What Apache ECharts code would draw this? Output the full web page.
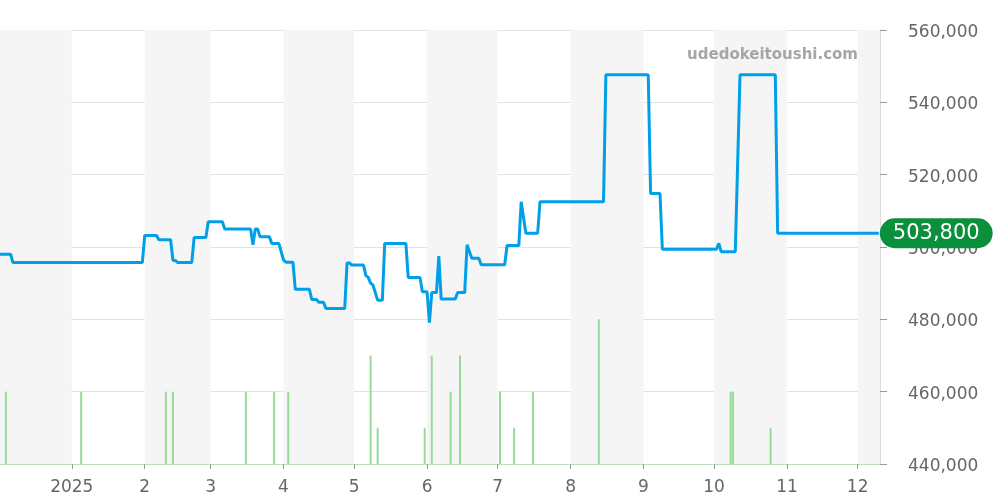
<!DOCTYPE html>
<html>
<head>
<meta charset="utf-8">
<script src="https://cdn.jsdelivr.net/npm/echarts@6/dist/echarts.min.js"></script>
<style>html,body{margin:0;padding:0;background:#fff}#c{width:1000px;height:500px}</style>
</head>
<body>
<div id="c"></div>
<script>
// Price line (date, value)
const priceDates = [
 '2024-12-01','2024-12-06','2024-12-07','2025-01-31','2025-02-01','2025-02-06','2025-02-07','2025-02-12',
 '2025-02-13','2025-02-14','2025-02-15','2025-02-21','2025-02-22','2025-02-27','2025-02-28','2025-03-06',
 '2025-03-07','2025-03-18','2025-03-19','2025-03-20','2025-03-21','2025-03-22','2025-03-26','2025-03-27',
 '2025-03-30','2025-04-01','2025-04-02','2025-04-05','2025-04-06','2025-04-12','2025-04-13','2025-04-15',
 '2025-04-16','2025-04-18','2025-04-19','2025-04-27','2025-04-28','2025-04-29','2025-04-30','2025-05-05',
 '2025-05-06','2025-05-07','2025-05-08','2025-05-09','2025-05-11','2025-05-13','2025-05-14','2025-05-23',
 '2025-05-24','2025-05-29','2025-05-30','2025-06-01','2025-06-02','2025-06-03','2025-06-05','2025-06-06',
 '2025-06-07','2025-06-13','2025-06-14','2025-06-17','2025-06-18','2025-06-20','2025-06-23','2025-06-24',
 '2025-07-04','2025-07-05','2025-07-10','2025-07-11','2025-07-13','2025-07-18','2025-07-19','2025-08-15',
 '2025-08-16','2025-09-03','2025-09-04','2025-09-08','2025-09-09','2025-10-02','2025-10-03','2025-10-04',
 '2025-10-10','2025-10-12','2025-10-27','2025-10-28','2025-12-10'
];
const priceValues = [
 498000,498000,495700,495700,503200,503200,502000,502000,
 496300,496300,495700,495700,502600,502600,507000,507000,
 505000,505000,500600,505000,505000,502800,502800,501000,
 501000,496400,495800,495800,488300,488300,485500,485500,
 484700,484700,483000,483000,495600,495600,495000,495000,
 492100,491600,490000,489500,485300,485300,501000,501000,
 491600,491600,487600,487600,479100,487400,487400,497500,
 485600,485600,487400,487400,500600,496900,496900,495100,
 495100,500400,500400,512500,503800,503800,512500,512500,
 547600,547600,514800,514800,499400,499400,501000,498700,
 498700,547600,547600,503800,503800
];
// Trade count bars
const volumeDates = ['2024-12-04','2025-01-05','2025-02-10','2025-02-13','2025-03-16','2025-03-28','2025-04-03',
 '2025-05-08','2025-05-11','2025-05-31','2025-06-03','2025-06-11','2025-06-15','2025-07-02','2025-07-08',
 '2025-07-16','2025-08-13','2025-10-08','2025-10-09','2025-10-25'];
const volumeValues = [2,2,2,2,2,2,2,3,1,1,3,2,3,2,1,2,4,2,2,1];
// Month ticks and labels
const tickDates = ['2025-01-01','2025-02-01','2025-03-01','2025-04-01','2025-05-01','2025-06-01',
 '2025-07-01','2025-08-01','2025-09-01','2025-10-01','2025-11-01','2025-12-01'];
const tickLabels = ['2025','2','3','4','5','6','7','8','9','10','11','12'];
// Shaded month bands
const bandStarts = ['2024-12-01','2025-02-01','2025-04-01','2025-06-01','2025-08-01','2025-10-01','2025-12-01'];
const bandEnds   = ['2025-01-01','2025-03-01','2025-05-01','2025-07-01','2025-09-01','2025-11-01','2025-12-10T12:00:00'];
const xMin = '2024-12-01T12:00:00';
const xMax = '2025-12-10T12:00:00';
const yTicks = [440000,460000,480000,500000,520000,540000,560000];

const ts = s => new Date(s + (s.length === 10 ? 'T00:00:00' : '')).getTime();
const fmt = v => Math.round(v).toString().replace(/\B(?=(\d{3})+(?!\d))/g, ',');
const tickTs = tickDates.map(ts);
const labelOf = {};
tickTs.forEach((t, i) => labelOf[t] = tickLabels[i]);

const chart = echarts.init(document.getElementById('c'), null, {renderer: 'canvas'});
const font = 'DejaVu Sans';
chart.setOption({
  animation: false,
  textStyle: {fontFamily: font},
  title: {
    text: 'udedokeitoushi.com', right: 137, top: 43,
    textStyle: {fontFamily: font, fontSize: 15, fontWeight: 'bold', color: '#a6a6a6'}
  },
  grid: {left: 0, right: 120, top: 30, bottom: 36, containLabel: false},
  xAxis: {
    type: 'value', min: ts(xMin), max: ts(xMax), scale: true,
    axisLine: {show: true, lineStyle: {color: '#a5dca5', type: [1, 2], width: 1}},
    axisTick: {show: true, length: 5, lineStyle: {color: '#999'}, customValues: tickTs},
    axisLabel: {
      customValues: tickTs, margin: 15, fontSize: 17, color: '#666', fontFamily: font,
      showMinLabel: true, showMaxLabel: true, hideOverlap: false,
      formatter: v => labelOf[v] !== undefined ? labelOf[v] : ''
    },
    splitLine: {show: false}
  },
  yAxis: [{
    type: 'value', position: 'right', min: yTicks[0], max: yTicks[yTicks.length - 1], interval: 20000,
    axisLine: {show: true, lineStyle: {color: '#dcdcdc'}},
    axisTick: {show: true, length: 7, lineStyle: {color: '#999'}},
    axisLabel: {
      margin: 28, formatter: v => '{a|' + fmt(v) + '}',
      rich: {a: {fontSize: 17, color: '#666', fontFamily: font, padding: [5, 0, 0, 0]}}
    },
    splitLine: {show: true, lineStyle: {color: '#e2e2e2'}}
  }, {
    type: 'value', min: 0, max: 12, show: false, splitLine: {show: false}
  }],
  series: [{
    type: 'line', z: -1, data: [], silent: true,
    markArea: {
      silent: true,
      itemStyle: {color: '#f5f5f5'},
      data: bandStarts.map((s, i) => [{xAxis: ts(s)}, {xAxis: ts(bandEnds[i])}])
    }
  }, {
    type: 'bar', yAxisIndex: 1, barWidth: 2, silent: true,
    itemStyle: {color: '#98da98'},
    data: volumeDates.map((d, i) => [ts(d), volumeValues[i]])
  }, {
    type: 'line', yAxisIndex: 0, showSymbol: false, symbol: 'none',
    lineStyle: {color: '#00a0e9', width: 3},
    data: priceDates.map((d, i) => [ts(d), priceValues[i]]),
    endLabel: {
      show: true, distance: 1,
      formatter: p => fmt(p.value[1]),
      backgroundColor: '#0a8f3a', color: '#fff', fontSize: 21, lineHeight: 22,
      padding: [4, 13], borderRadius: 15, fontFamily: font
    }
  }]
});
</script>
</body>
</html>
